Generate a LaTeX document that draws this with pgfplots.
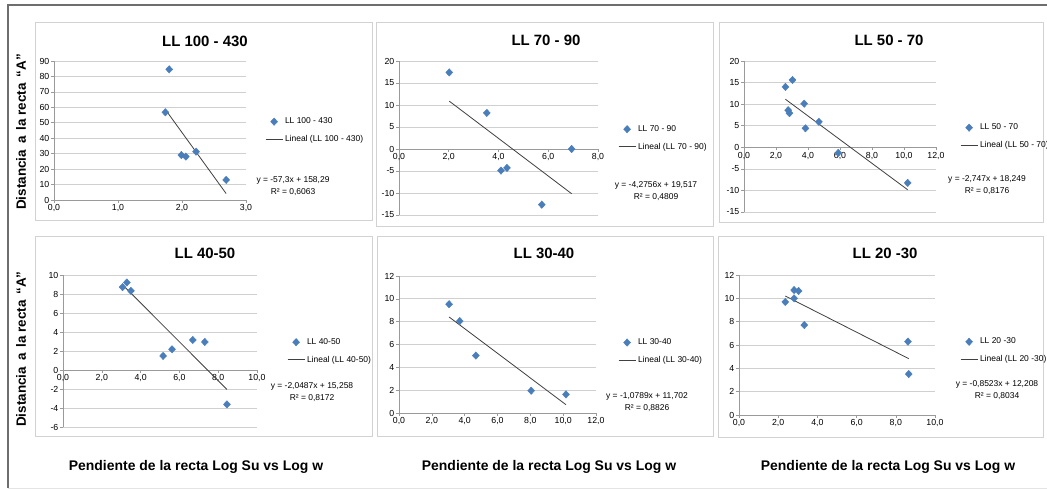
\documentclass[border=0pt]{standalone}
\usepackage{fontspec}
\setmainfont{Liberation Sans}
\usepackage{pgfplots}
\pgfplotsset{compat=1.18}

\definecolor{markblue}{HTML}{4A7EBB}
\definecolor{trendgray}{HTML}{404040}
\definecolor{gridgray}{HTML}{D0D0D0}
\definecolor{axisgray}{HTML}{9A9A9A}
\definecolor{boxgray}{HTML}{D2D2D2}
\definecolor{framegray}{HTML}{6E6E6E}

\pgfplotsset{
  panel/.style={
    scale only axis, anchor=south west, clip=false,
    axis x line=middle, axis y line=left,
    axis line style={-, draw=axisgray, line width=0.7bp},
    every inner x axis line/.append style={-},
    every outer y axis line/.append style={-},
    hide obscured x ticks=false, hide obscured y ticks=false,
    ymajorgrids, grid style={draw=gridgray, line width=0.7bp},
    tick style={draw=axisgray, line width=0.6bp},
    major tick length=3bp, tick align=outside,
    ticklabel style={font=\fontsize{8.8}{9}\selectfont, inner sep=1.5bp},
    legend cell align=left,
    legend style={at={(1,0.5)}, anchor=west, draw=none, fill=none,
      font=\fontsize{8.5}{9}\selectfont, row sep=6bp, inner sep=0pt},
  },
  pts/.style={only marks, mark=diamond*, mark size=3.7bp, color=markblue,
    mark options={xscale=1.25}},
  fit/.style={no marks, color=trendgray, line width=0.8bp},
}

\tikzset{
  ttl/.style={font=\fontsize{15}{17}\selectfont\bfseries},
  eqn/.style={align=center, font=\fontsize{8.5}{11.5}\selectfont},
  ylab/.style={rotate=90, font=\fontsize{13.5}{15}\selectfont\bfseries},
  xlab/.style={font=\fontsize{14}{16}\selectfont\bfseries},
}

\begin{document}
\begin{tikzpicture}
\useasboundingbox (0,0) rectangle (1047bp,490bp);
\fill[white] (0,0) rectangle (1047bp,490bp);
% outer frame
\draw[framegray, line width=1.2bp] (8bp,2bp) -- (8bp,485bp) -- (1047bp,485bp);
\draw[boxgray!60, line width=0.8bp] (8bp,2bp) -- (1047bp,2bp);
% panel boxes
\draw[boxgray, line width=1bp] (35bp,269bp) rectangle (372bp,467bp);
\draw[boxgray, line width=1bp] (376bp,263bp) rectangle (713bp,467bp);
\draw[boxgray, line width=1bp] (719bp,267bp) rectangle (1043bp,467bp);
\draw[boxgray, line width=1bp] (35bp,53bp) rectangle (372bp,253bp);
\draw[boxgray, line width=1bp] (377bp,53bp) rectangle (713bp,253bp);
\draw[boxgray, line width=1bp] (718bp,52bp) rectangle (1043bp,253bp);

% ---- LL 100 - 430
\begin{axis}[panel, at={(54bp,290bp)}, width=192bp, height=139bp,
  xmin=0, xmax=3, ymin=0, ymax=90,
  xtick={0,1,2,3}, xticklabels={{0,0},{1,0},{2,0},{3,0}},
  ytick={0,10,...,90}, yticklabels={0,10,20,30,40,50,60,70,80,90},
  legend style={xshift=19bp}]
\addplot[pts] coordinates {(1.80,84.6) (1.74,56.8) (1.99,29.1) (2.06,28.1) (2.22,31.3) (2.69,13.0)};
\addplot[fit] coordinates {(1.74,58.59) (2.69,4.15)};
\legend{LL 100 - 430, Lineal (LL 100 - 430)}
\end{axis}

% ---- LL 70 - 90
\begin{axis}[panel, at={(399bp,275bp)}, width=199bp, height=154bp,
  xmin=0, xmax=8, ymin=-15, ymax=20,
  xtick={0,2,4,6,8}, xticklabels={{0,0},{2,0},{4,0},{6,0},{8,0}},
  ytick={-15,-10,...,20}, yticklabels={-15,-10,-5,0,5,10,15,20},
  legend style={xshift=20bp}]
\addplot[pts] coordinates {(2.02,17.4) (3.53,8.2) (4.10,-4.9) (4.34,-4.3) (5.74,-12.65) (6.94,0)};
\addplot[fit] coordinates {(2.02,10.88) (6.94,-10.16)};
\legend{LL 70 - 90, Lineal (LL 70 - 90)}
\end{axis}

% ---- LL 50 - 70
\begin{axis}[panel, at={(744bp,278bp)}, width=192bp, height=151bp,
  xmin=0, xmax=12, ymin=-15, ymax=20,
  xtick={0,2,...,12}, xticklabels={{0,0},{2,0},{4,0},{6,0},{8,0},{10,0},{12,0}},
  ytick={-15,-10,...,20}, yticklabels={-15,-10,-5,0,5,10,15,20},
  legend style={xshift=24bp}]
\addplot[pts] coordinates {(2.59,14.0) (3.03,15.6) (2.76,8.6) (2.84,7.9) (3.76,10.1) (3.84,4.4) (4.68,5.9) (5.89,-1.3) (10.23,-8.25)};
\addplot[fit] coordinates {(2.59,11.13) (10.23,-9.85)};
\legend{LL 50 - 70, Lineal (LL 50 - 70)}
\end{axis}

% ---- LL 40-50
\begin{axis}[panel, at={(63bp,63bp)}, width=194bp, height=152bp,
  xmin=0, xmax=10, ymin=-6, ymax=10,
  xtick={0,2,...,10}, xticklabels={{0,0},{2,0},{4,0},{6,0},{8,0},{10,0}},
  ytick={-6,-4,...,10}, yticklabels={-6,-4,-2,0,2,4,6,8,10},
  legend style={xshift=30bp}]
\addplot[pts] coordinates {(3.07,8.72) (3.29,9.21) (3.50,8.33) (5.16,1.48) (5.62,2.18) (6.69,3.16) (7.31,2.95) (8.45,-3.62)};
\addplot[fit] coordinates {(3.07,8.97) (8.45,-2.05)};
\legend{LL 40-50, Lineal (LL 40-50)}
\end{axis}

% ---- LL 30-40
\begin{axis}[panel, at={(399bp,77bp)}, width=197bp, height=137bp,
  xmin=0, xmax=12, ymin=0, ymax=12,
  xtick={0,2,...,12}, xticklabels={{0,0},{2,0},{4,0},{6,0},{8,0},{10,0},{12,0}},
  ytick={0,2,...,12}, yticklabels={0,2,4,6,8,10,12},
  legend style={xshift=22bp, at={(1,0.45)}}]
\addplot[pts] coordinates {(3.05,9.53) (3.70,8.05) (4.68,5.03) (8.05,1.95) (10.17,1.63)};
\addplot[fit] coordinates {(3.05,8.41) (10.17,0.73)};
\legend{LL 30-40, Lineal (LL 30-40)}
\end{axis}

% ---- LL 20 -30
\begin{axis}[panel, at={(739bp,75bp)}, width=196bp, height=140bp,
  xmin=0, xmax=10, ymin=0, ymax=12,
  xtick={0,2,...,10}, xticklabels={{0,0},{2,0},{4,0},{6,0},{8,0},{10,0}},
  ytick={0,2,...,12}, yticklabels={0,2,4,6,8,10,12},
  legend style={xshift=25bp, at={(1,0.46)}}]
\addplot[pts] coordinates {(2.36,9.69) (2.81,10.71) (3.04,10.63) (2.81,10.0) (3.33,7.71) (8.62,6.29) (8.66,3.51)};
\addplot[fit] coordinates {(2.36,10.20) (8.66,4.83)};
\legend{LL 20 -30, Lineal (LL 20 -30)}
\end{axis}

% titles
\node[ttl] at (205bp,449bp) {LL 100 - 430};
\node[ttl] at (546bp,450bp) {LL 70 - 90};
\node[ttl] at (889bp,450bp) {LL 50 - 70};
\node[ttl] at (205bp,237bp) {LL 40-50};
\node[ttl] at (544bp,237bp) {LL 30-40};
\node[ttl] at (885bp,237bp) {LL 20 -30};

% trend equations
\node[eqn] at (293bp,304bp) {y = -57,3x + 158,29\\R² = 0,6063};
\node[eqn] at (656bp,299bp) {y = -4,2756x + 19,517\\R² = 0,4809};
\node[eqn] at (987bp,305bp) {y = -2,747x + 18,249\\R² = 0,8176};
\node[eqn] at (312bp,98bp) {y = -2,0487x + 15,258\\R² = 0,8172};
\node[eqn] at (647bp,88bp) {y = -1,0789x + 11,702\\R² = 0,8826};
\node[eqn] at (997bp,100bp) {y = -0,8523x + 12,208\\R² = 0,8034};

% axis labels
\node[ylab] at (21bp,358bp) {Distancia\, a\, la recta\, “A”};
\node[ylab] at (21bp,141bp) {Distancia\, a\, la recta\, “A”};
\node[xlab] at (196bp,23bp) {Pendiente de la recta Log Su vs Log w};
\node[xlab] at (549bp,23bp) {Pendiente de la recta Log Su vs Log w};
\node[xlab] at (888bp,23bp) {Pendiente de la recta Log Su vs Log w};
\end{tikzpicture}
\end{document}
